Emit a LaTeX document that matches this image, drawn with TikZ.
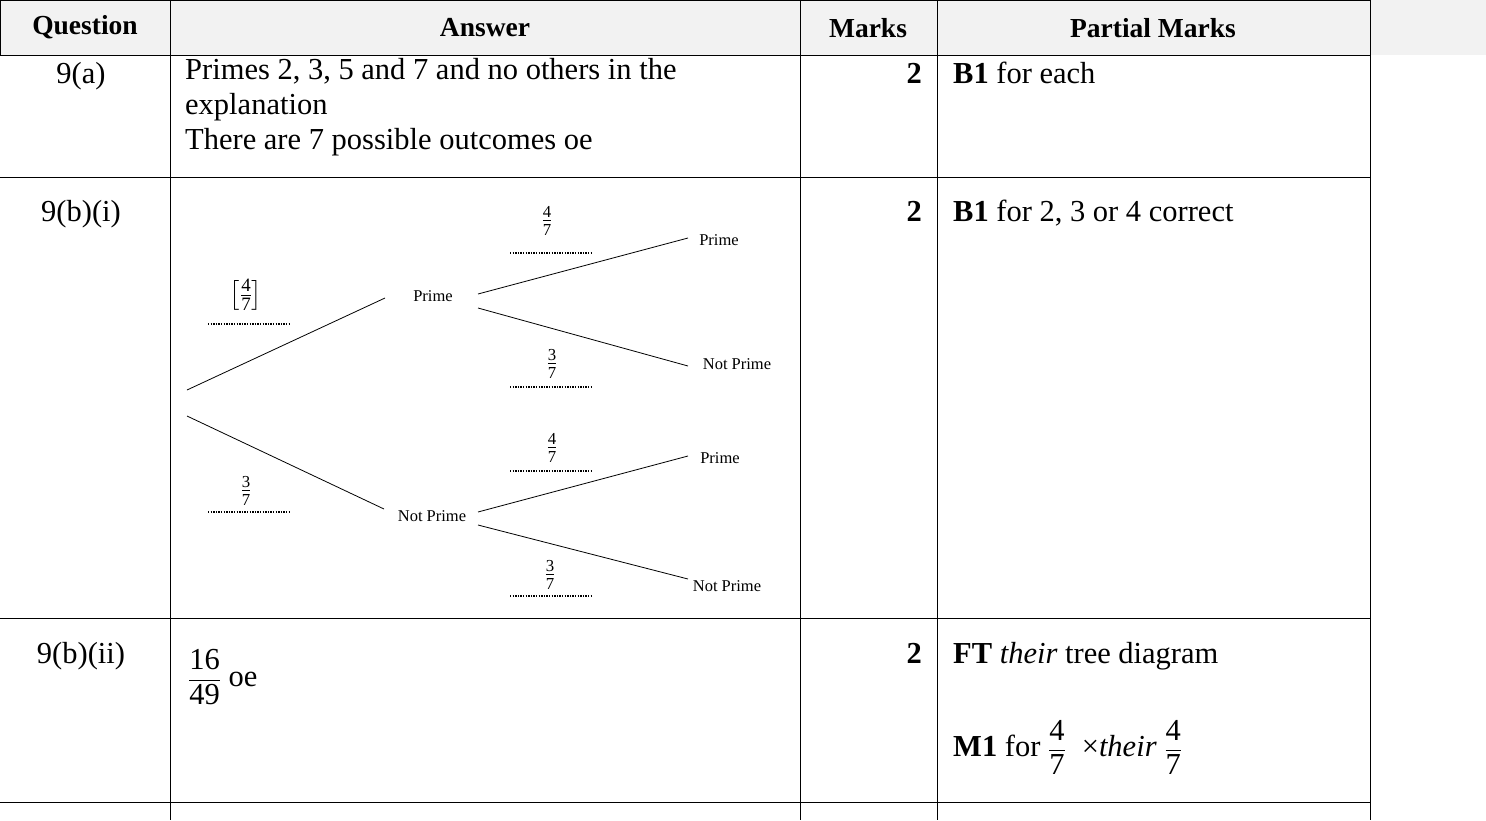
\documentclass[tikz,border=0pt]{standalone}
\usepackage{amsmath}
\usepackage{fontspec}
\setmainfont{Liberation Serif}
\newcommand{\tfr}[2]{$\dfrac{\text{#1}}{\text{#2}}$}
\newcommand{\sfr}[2]{$\frac{\text{#1}}{\text{#2}}$}
\begin{document}
\begin{tikzpicture}[x=1pt,y=-1pt,
  txt/.style={font=\fontsize{30.5}{35}\selectfont,anchor=base west,inner sep=0pt,align=left},
  hdr/.style={font=\fontsize{27.5}{30}\selectfont\bfseries,inner sep=0pt},
  lab/.style={font=\fontsize{16.5}{18}\selectfont,inner sep=0pt},
  frc/.style={font=\fontsize{24}{26}\selectfont,inner sep=0pt},
  dots/.style={line width=2.6pt,dash pattern=on 1.4pt off 1.2pt},
  br/.style={line width=0.8pt}]
\useasboundingbox (0,0) rectangle (1486,820);
\fill[black!5] (0,0) rectangle (1486,55);
\fill[white] (0,55) rectangle (1486,820);
% grid
\draw[line width=1pt] (0,0) -- (1370,0) (0,55) -- (1370,55) (0,177) -- (1370,177)
  (0,618) -- (1370,618) (0,802) -- (1370,802);
\draw[line width=1pt] (0.5,0) -- (0.5,55) (170,0) -- (170,820) (800,0) -- (800,820)
  (937,0) -- (937,820) (1370,0) -- (1370,820);
% headers
\node[hdr] (h1) at (85,27) {Question};
\node[hdr] (h2) at (485,28) {Answer};
\node[hdr] (h3) at (868,28) {Marks};
\node[hdr] (h4) at (1153,28) {Partial Marks};
% row a
\node[txt,anchor=base] (q1) at (81,83) {9(a)};
\node[txt,anchor=north west] (a1) at (185,58) {Primes 2, 3, 5 and 7 and no others in the\\explanation\\There are 7 possible outcomes oe};
\node[txt,anchor=base east] (m1) at (922,83) {\textbf{2}};
\node[txt] (p1) at (953,83) {\textbf{B1} for each};
% row b(i)
\node[txt,anchor=base] (q2) at (81,221) {9(b)(i)};
\node[txt,anchor=base east] (m2) at (922,221) {\textbf{2}};
\node[txt] (p2) at (953,221) {\textbf{B1} for 2, 3 or 4 correct};
% tree
\coordinate (r1) at (187,390); \coordinate (r2) at (187,416);
\node[lab] (P) at (433,296) {Prime};
\node[lab] (N) at (432,516) {Not Prime};
\node[lab] (PP) at (719,240) {Prime};
\node[lab] (PN) at (737,364) {Not Prime};
\node[lab] (NP) at (720,458) {Prime};
\node[lab] (NN) at (727,586) {Not Prime};
\coordinate (Pa) at (385,298); \coordinate (Na) at (384,509);
\coordinate (Pb) at (478,294); \coordinate (Pc) at (478,308);
\coordinate (Nb) at (478,512); \coordinate (Nc) at (478,525);
\coordinate (e1) at (688,238); \coordinate (e2) at (688,366);
\coordinate (e3) at (688,456); \coordinate (e4) at (688,579);
\draw[br] (r1) -- (Pa); \draw[br] (r2) -- (Na);
\draw[br] (Pb) -- (e1); \draw[br] (Pc) -- (e2);
\draw[br] (Nb) -- (e3); \draw[br] (Nc) -- (e4);
\node[frc] (f1) at (547,221) {\sfr{4}{7}};
\node[frc] (f2) at (552,364) {\sfr{3}{7}};
\node[frc] (f3) at (552,448) {\sfr{4}{7}};
\node[frc] (f4) at (550,575) {\sfr{3}{7}};
\node[frc,font=\fontsize{27}{30}\selectfont] (f5) at (246,295) {$\left[\frac{\text{4}}{\text{7}}\right]$};
\node[frc] (f6) at (246,491) {\sfr{3}{7}};
\foreach \y in {253,387,471,596} \draw[dots] (510,\y) -- (592,\y);
\foreach \y in {324,512} \draw[dots] (208,\y) -- (290,\y);
% row b(ii)
\node[txt,anchor=west] (a3) at (188,677) {\tfr{16}{49} oe};
\node[txt,anchor=base] (q3) at (81,663) {9(b)(ii)};
\node[txt,anchor=base east] (m3) at (922,663) {\textbf{2}};
\node[txt] (p3) at (953,663) {\textbf{FT} \textit{their} tree diagram};
\node[txt,anchor=west] (p4) at (953,747) {\textbf{M1} for \tfr{4}{7}\; ×\textit{their} \tfr{4}{7}};
\end{tikzpicture}
\end{document}
